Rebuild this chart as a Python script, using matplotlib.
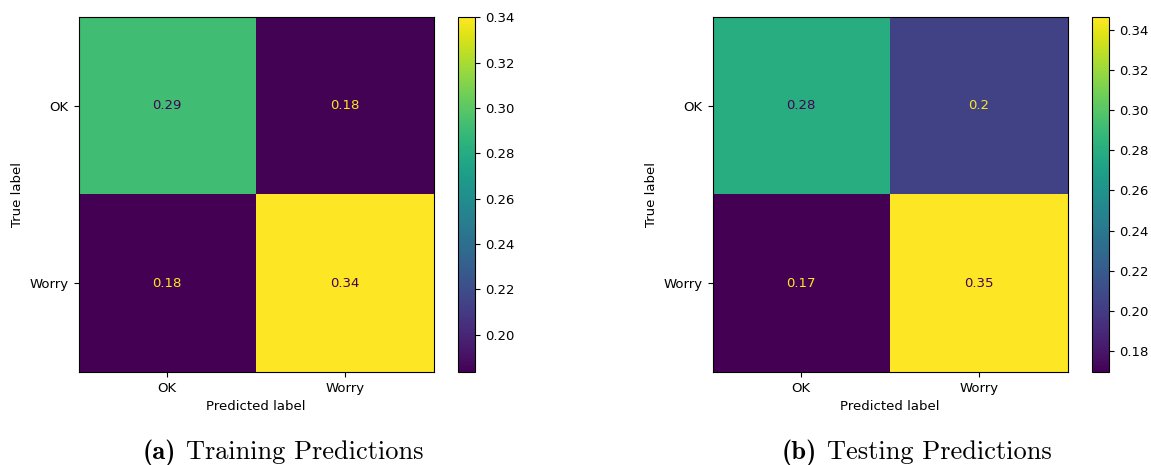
import numpy as np
import matplotlib
matplotlib.use("Agg")
import matplotlib.pyplot as plt

# Data
labels = ["OK", "Worry"]
train_cm = np.array([[0.2920, 0.1843],
                     [0.1835, 0.3402]])
test_cm = np.array([[0.2795, 0.2045],
                    [0.1695, 0.3465]])
cap_tags = ["(a)", "(b)"]
cap_texts = ["Training Predictions", "Testing Predictions"]

plt.rcParams['font.size'] = 9.5
plt.rcParams['axes.unicode_minus'] = False

fig = plt.figure(figsize=(11.51, 4.65), dpi=100)
cmap = plt.get_cmap('viridis')


def draw_cm(ax, cax, cm):
    im = ax.imshow(cm, cmap=cmap, interpolation='nearest')
    thresh = (cm.max() + cm.min()) / 2.0
    for i in range(cm.shape[0]):
        for j in range(cm.shape[1]):
            color = cmap(0.0) if cm[i, j] >= thresh else cmap(1.0)
            ax.text(j, i, format(cm[i, j], '.2g'), ha='center', va='center',
                    color=color, fontsize=9.5)
    ax.set_xticks(range(len(labels)))
    ax.set_xticklabels(labels)
    ax.set_yticks(range(len(labels)))
    ax.set_yticklabels(labels)
    ax.set_xlabel("Predicted label")
    ax.set_ylabel("True label")
    fig.colorbar(im, cax=cax)


ax1 = fig.add_axes([0.0678, 0.2, 0.3093, 0.7634])
cax1 = fig.add_axes([0.398, 0.2, 0.0148, 0.7634])
draw_cm(ax1, cax1, train_cm)

ax2 = fig.add_axes([0.6186, 0.2, 0.3093, 0.7634])
cax2 = fig.add_axes([0.9487, 0.2, 0.0148, 0.7634])
draw_cm(ax2, cax2, test_cm)

# captions: bold tag + roman text in Computer Modern, centred as a pair
renderer = fig.canvas.get_renderer()
centers = [283, 917]
gap = 10
for tag, txt, cx in zip(cap_tags, cap_texts, centers):
    t1 = fig.text(0, 0, tag, family='cmb10', fontsize=19, va='baseline')
    t2 = fig.text(0, 0, txt, family='cmr10', fontsize=19, va='baseline')
    w1 = t1.get_window_extent(renderer).width
    w2 = t2.get_window_extent(renderer).width
    x0 = cx - (w1 + gap + w2) / 2
    yb = 1 - 459 / 465
    t1.set_position((x0 / 1151, yb))
    t2.set_position(((x0 + w1 + gap) / 1151, yb))

fig.savefig("out.png", dpi=100)
